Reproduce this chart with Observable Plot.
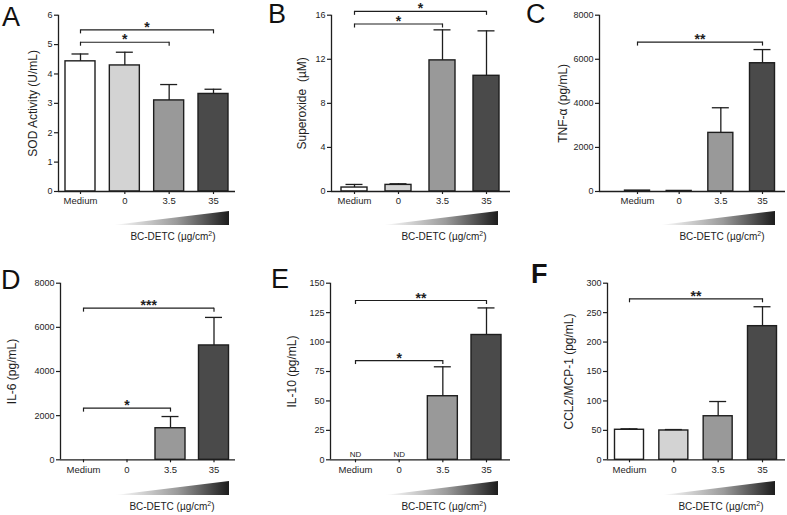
<!DOCTYPE html>
<html>
<head>
<meta charset="utf-8">
<script src="https://cdn.jsdelivr.net/npm/d3@7"></script>
<script src="https://cdn.jsdelivr.net/npm/@observablehq/plot@0.6"></script>
<style>
  html, body { margin: 0; padding: 0; background: #fff; }
  #fig { position: relative; width: 787px; height: 515px; overflow: hidden; background: #fff;
         font-family: "Liberation Sans", Arial, Helvetica, sans-serif; color: #222; }
  .panel { position: absolute; }
  .letter { position: absolute; font-size: 27px; line-height: 1; color: #111; }
  .letter.bold { font-weight: bold; }
  .tri { position: absolute; background: linear-gradient(to right, #ffffff 0%, #9a9a9a 55%, #1c1c1c 100%);
         clip-path: polygon(0 100%, 100% 0, 100% 100%); }
  .dose { position: absolute; font-size: 10px; line-height: 1; white-space: nowrap; transform: translateX(-50%); color: #222; }
  .dose sup { font-size: 7px; vertical-align: 4px; line-height: 0; }
</style>
</head>
<body>
<div id="fig"></div>
<script>
// ---------- data ----------
const categories = ["Medium", "0", "3.5", "35"];

const sodMean = [4.43, 4.29, 3.10, 3.32];
const sodSem  = [0.25, 0.45, 0.54, 0.16];
const sodBrackets = [
  {from: 0, to: 3, y: 5.50, label: "*"},
  {from: 0, to: 2, y: 5.08, label: "*"}
];

const superoxideMean = [0.36, 0.60, 11.9, 10.5];
const superoxideSem  = [0.28, 0.10, 2.77, 4.08];
const superoxideBrackets = [
  {from: 0, to: 3, y: 16.35, label: "*"},
  {from: 0, to: 2, y: 15.2, label: "*"}
];

const tnfMean = [40, 25, 2660, 5820];
const tnfSem  = [0, 0, 1140, 620];
const tnfBrackets = [
  {from: 0, to: 3, y: 6780, label: "**"}
];

const il6Mean = [0, 0, 1430, 5180];
const il6Sem  = [0, 0, 530, 1270];
const il6Brackets = [
  {from: 0, to: 3, y: 6870, label: "***"},
  {from: 0, to: 2, y: 2340, label: "*"}
];

const il10Mean = [null, null, 54, 106];
const il10Sem  = [null, null, 25, 23];
const il10NotDetected = "ND";
const il10Brackets = [
  {from: 0, to: 3, y: 135.3, label: "**"},
  {from: 0, to: 2, y: 84.3, label: "*"}
];

const mcpMean = [51, 49.8, 74, 227];
const mcpSem  = [1.6, 1.6, 25, 33];
const mcpBrackets = [
  {from: 0, to: 3, y: 273.5, label: "**"}
];

const sodTicks = [0, 1, 2, 3, 4, 5, 6];
const superoxideTicks = [0, 4, 8, 12, 16];
const tnfTicks = [0, 2000, 4000, 6000, 8000];
const il6Ticks = [0, 2000, 4000, 6000, 8000];
const il10Ticks = [0, 25, 50, 75, 100, 125, 150];
const mcpTicks = [0, 50, 100, 150, 200, 250, 300];

const doseText = "BC-DETC (µg/cm";
const doseSup = "2";

// ---------- styles / layout ----------
const barFills = ["#ffffff", "#d3d3d3", "#999999", "#4a4a4a"];
const ink = "#1e1e1e";

const panels = [
  {letter: "A", bold: false, lx: 2, ly: 4, left: 0, top: 0, w: 262, h: 214,
   axisX: 58, axisEnd: 235, yTop: 14.7, y0: 191, c0: 80, c3: 213, bw: 30,
   yMax: 6, ticks: sodTicks, label: "SOD Activity (U/mL)", labelX: 33,
   mean: sodMean, sem: sodSem, brackets: sodBrackets,
   tri: [113, 211, 116, 14], dose: [173, 232]},
  {letter: "B", bold: false, lx: 268, ly: 1, left: 262, top: 0, w: 265, h: 214,
   axisX: 331, axisEnd: 510, yTop: 14.7, y0: 191, c0: 354, c3: 486, bw: 26,
   yMax: 16, ticks: superoxideTicks, label: "Superoxide  (µM)", labelX: 302,
   mean: superoxideMean, sem: superoxideSem, brackets: superoxideBrackets,
   tri: [383, 211, 115, 14], dose: [444, 232]},
  {letter: "C", bold: false, lx: 526, ly: 1, left: 527, top: 0, w: 260, h: 214,
   axisX: 599, axisEnd: 785, yTop: 14.7, y0: 191, c0: 637, c3: 762, bw: 25,
   yMax: 8000, ticks: tnfTicks, label: "TNF-α (pg/mL)", labelX: 563,
   mean: tnfMean, sem: tnfSem, brackets: tnfBrackets,
   tri: [660, 211, 115, 14], dose: [722, 232]},
  {letter: "D", bold: false, lx: 1, ly: 267, left: 0, top: 268, w: 262, h: 214,
   axisX: 60, axisEnd: 235, yTop: 282.7, y0: 459.3, c0: 83, c3: 213.5, bw: 30,
   yMax: 8000, ticks: il6Ticks, label: "IL-6 (pg/mL)", labelX: 12,
   mean: il6Mean, sem: il6Sem, brackets: il6Brackets,
   tri: [115, 481, 114, 14], dose: [172, 502]},
  {letter: "E", bold: false, lx: 271, ly: 266, left: 262, top: 268, w: 265, h: 214,
   axisX: 330, axisEnd: 510, yTop: 282.7, y0: 459.3, c0: 355, c3: 486, bw: 30,
   yMax: 150, ticks: il10Ticks, label: "IL-10 (pg/mL)", labelX: 292,
   mean: il10Mean, sem: il10Sem, brackets: il10Brackets,
   tri: [385, 481, 113, 14], dose: [444, 502]},
  {letter: "F", bold: true, lx: 531, ly: 261, left: 527, top: 268, w: 260, h: 214,
   axisX: 607, axisEnd: 785, yTop: 282.7, y0: 459.3, c0: 629, c3: 762, bw: 29,
   yMax: 300, ticks: mcpTicks, label: "CCL2/MCP-1 (pg/mL)", labelX: 569,
   mean: mcpMean, sem: mcpSem, brackets: mcpBrackets,
   tri: [662, 481, 113, 14], dose: [721, 502]}
];

const fig = document.getElementById("fig");

for (const p of panels) {
  const rows = categories.map((c, i) => ({cat: c, i, mean: p.mean[i], sem: p.sem[i]}));
  const bars = rows.filter(d => d.mean != null);
  const errs = bars.filter(d => d.sem > 0);
  const nd = rows.filter(d => d.mean == null);
  const step = (p.c3 - p.c0) / 3;
  const hw = p.bw / 2 / step;
  const cap = 8.5 / step;
  const xDomain = [(p.axisX - p.c0) / step, 3 + (p.axisEnd - p.c3) / step];

  const chart = Plot.plot({
    width: p.w,
    height: p.h,
    marginLeft: p.axisX - p.left,
    marginRight: p.left + p.w - p.axisEnd,
    marginTop: p.yTop - p.top,
    marginBottom: p.top + p.h - p.y0,
    x: {domain: xDomain, axis: null},
    y: {domain: [0, p.yMax], axis: null},
    style: {fontFamily: '"Liberation Sans", Arial, sans-serif', background: "transparent",
            overflow: "visible", maxWidth: "none", color: ink},
    marks: [
      Plot.rectY(bars, {x1: d => d.i - hw, x2: d => d.i + hw, y1: () => 0, y2: "mean",
        fill: d => barFills[d.i], stroke: ink, strokeWidth: 1.4}),
      Plot.ruleX(errs, {x: "i", y1: "mean", y2: d => d.mean + d.sem, stroke: ink, strokeWidth: 1.3}),
      Plot.ruleY(errs, {x1: d => d.i - cap, x2: d => d.i + cap, y: d => d.mean + d.sem, stroke: ink, strokeWidth: 1.3}),
      Plot.ruleX([xDomain[0]], {stroke: ink, strokeWidth: 1.3}),
      Plot.ruleY([0], {stroke: ink, strokeWidth: 1.3}),
      Plot.axisY({ticks: p.ticks, tickFormat: d => String(d), tickSize: 4, tickPadding: 2, fontSize: 9,
        label: null, stroke: ink, strokeWidth: 1.2}),
      Plot.axisX({ticks: [0, 1, 2, 3], tickFormat: i => categories[i], tickSize: 3, tickPadding: 3,
        fontSize: 9.5, label: null, stroke: ink, strokeWidth: 1.2}),
      Plot.link(p.brackets, {x1: "from", x2: "to", y1: "y", y2: "y", stroke: ink, strokeWidth: 1.2}),
      Plot.ruleX(p.brackets, {x: "from", y1: "y", y2: "y", insetBottom: -4, stroke: ink, strokeWidth: 1.2}),
      Plot.ruleX(p.brackets, {x: "to", y1: "y", y2: "y", insetBottom: -4, stroke: ink, strokeWidth: 1.2}),
      Plot.text(p.brackets, {x: d => (d.from + d.to) / 2, y: "y", text: "label", lineAnchor: "bottom",
        dy: 2, fontSize: 14, fontWeight: "bold", fill: ink}),
      Plot.text(nd, {x: "i", y: () => 0, text: () => il10NotDetected, lineAnchor: "bottom", dy: -3,
        fontSize: 8, fill: ink}),
      Plot.text([p.label], {text: d => d, frameAnchor: "left", textAnchor: "middle", rotate: -90,
        dx: p.labelX - p.axisX, fontSize: 12, fill: ink})
    ]
  });

  const holder = document.createElement("div");
  holder.className = "panel";
  holder.style.left = p.left + "px";
  holder.style.top = p.top + "px";
  holder.style.width = p.w + "px";
  holder.style.height = p.h + "px";
  holder.appendChild(chart);
  fig.appendChild(holder);

  const letter = document.createElement("div");
  letter.className = "letter" + (p.bold ? " bold" : "");
  letter.style.left = p.lx + "px";
  letter.style.top = p.ly + "px";
  letter.textContent = p.letter;
  fig.appendChild(letter);

  const tri = document.createElement("div");
  tri.className = "tri";
  tri.style.left = p.tri[0] + "px";
  tri.style.top = p.tri[1] + "px";
  tri.style.width = p.tri[2] + "px";
  tri.style.height = p.tri[3] + "px";
  fig.appendChild(tri);

  const dose = document.createElement("div");
  dose.className = "dose";
  dose.style.left = p.dose[0] + "px";
  dose.style.top = p.dose[1] + "px";
  dose.appendChild(document.createTextNode(doseText));
  const sup = document.createElement("sup");
  sup.textContent = doseSup;
  dose.appendChild(sup);
  dose.appendChild(document.createTextNode(")"));
  fig.appendChild(dose);
}
</script>
</body>
</html>
